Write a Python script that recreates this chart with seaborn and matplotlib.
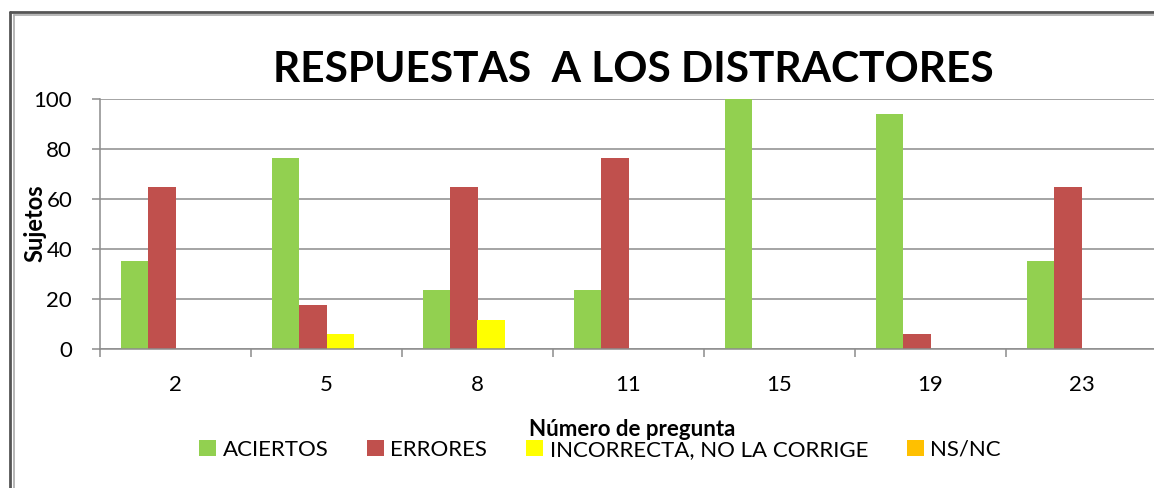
import matplotlib
matplotlib.use("Agg")
import matplotlib.pyplot as plt
import seaborn as sns
import pandas as pd
from matplotlib.lines import Line2D
from matplotlib.patches import Patch

preguntas = ["2", "5", "8", "11", "15", "19", "23"]
series = ["ACIERTOS", "ERRORES", "INCORRECTA, NO LA CORRIGE", "NS/NC"]
aciertos = [35.3, 76.5, 23.5, 23.5, 100, 94.1, 35.3]
errores = [64.7, 17.6, 64.7, 76.5, 0, 5.9, 64.7]
incorrecta = [0, 5.9, 11.8, 0, 0, 0, 0]
nsnc = [0, 0, 0, 0, 0, 0, 0]
colores = ["#92D050", "#C0504D", "#FFFF00", "#FFC000"]

rows = []
for nombre, vals in zip(series, [aciertos, errores, incorrecta, nsnc]):
    for p, v in zip(preguntas, vals):
        rows.append({"pregunta": p, "serie": nombre, "valor": v})
df = pd.DataFrame(rows)

sns.set_theme(style="white")
plt.rcParams["font.family"] = ["Lato", "DejaVu Sans"]
plt.rcParams["text.color"] = "black"
plt.rcParams["xtick.color"] = "black"
plt.rcParams["ytick.color"] = "black"

fig = plt.figure(figsize=(11.54, 4.88), dpi=100)
ax = fig.add_axes([100 / 1154, 139 / 488, 1057 / 1154, 250 / 488])

sns.barplot(data=df, x="pregunta", y="valor", hue="serie", order=preguntas,
            hue_order=series, palette=colores, width=0.72, linewidth=0,
            saturation=1, ax=ax, legend=False)

ax.set_ylim(0, 100)
ax.set_xlim(-0.5, len(preguntas) - 0.5)
ax.set_yticks([0, 20, 40, 60, 80, 100])
ax.yaxis.grid(True, color="#8c8c8c", linewidth=1.1)
ax.set_axisbelow(True)
for s in ["top", "right"]:
    ax.spines[s].set_visible(False)
for s in ["left", "bottom"]:
    ax.spines[s].set_color("#8c8c8c")
    ax.spines[s].set_linewidth(1.1)

ax.set_xticks([i - 0.5 for i in range(len(preguntas) + 1)], minor=True)
ax.tick_params(axis="x", which="major", length=0, pad=19, labelsize=16,
               labelcolor="black")
ax.tick_params(axis="x", which="minor", length=6, width=1.1, color="#8c8c8c",
               direction="out", bottom=True)
ax.tick_params(axis="y", length=6, width=1.1, color="#8c8c8c", direction="out",
               left=True, pad=14, labelsize=16, labelcolor="black")
ax.set_xlabel("")
ax.set_ylabel("")

fig.text(633 / 1154, 1 - 70 / 488, "RESPUESTAS  A LOS DISTRACTORES",
         ha="center", va="center", fontsize=30.5, fontweight="bold")
fig.text(35 / 1154, 1 - 223 / 488, "Sujetos", rotation=90, ha="center",
         va="center", fontsize=17, fontweight="bold")
fig.text(632 / 1154, 1 - 430 / 488, "Número de pregunta", ha="center",
         va="center", fontsize=16, fontweight="bold")

handles = [Patch(facecolor=c, edgecolor="none") for c in colores]
leg = fig.legend(handles, series, loc="center", ncol=4,
                 bbox_to_anchor=(600 / 1154, 1 - 450 / 488), frameon=False,
                 handlelength=0.75, handleheight=0.75, handletextpad=0.3,
                 columnspacing=1.75, prop={"size": 16})

# marco del grafico
fig.add_artist(Line2D([10 / 1154, 10 / 1154], [0, 1 - 12 / 488],
                      transform=fig.transFigure, color="#555555", lw=2))
fig.add_artist(Line2D([13.5 / 1154, 13.5 / 1154], [0, 1 - 14.5 / 488],
                      transform=fig.transFigure, color="#aaaaaa", lw=1.2))
fig.add_artist(Line2D([10 / 1154, 1], [1 - 12 / 488, 1 - 12 / 488],
                      transform=fig.transFigure, color="#555555", lw=2))
fig.add_artist(Line2D([13.5 / 1154, 1], [1 - 14.5 / 488, 1 - 14.5 / 488],
                      transform=fig.transFigure, color="#aaaaaa", lw=1.2))

fig.savefig("out.png", dpi=100)
